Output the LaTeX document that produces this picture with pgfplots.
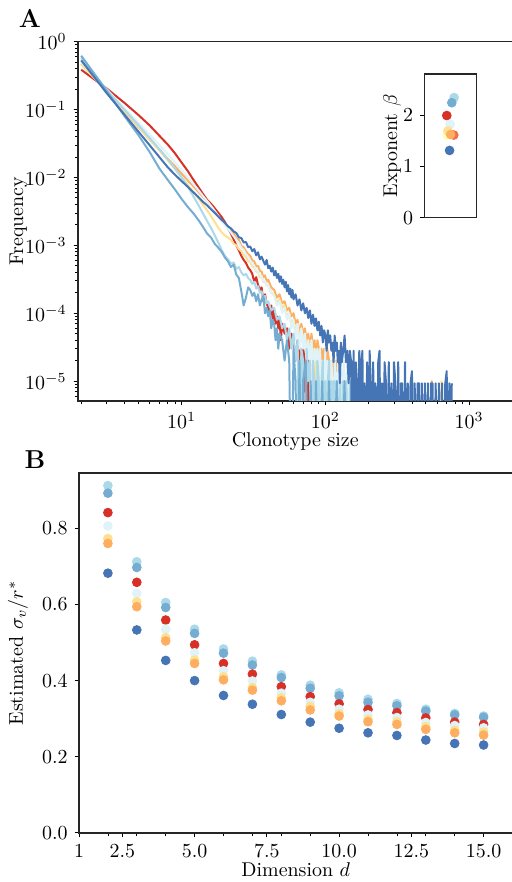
\documentclass[border=0pt]{standalone}
\usepackage{pgfplots}
\usepackage{pgfplotstable}
\pgfplotsset{compat=1.18}
\definecolor{cR}{HTML}{D73027}
\definecolor{cRO}{HTML}{F46D43}
\definecolor{cO}{HTML}{FDAE61}
\definecolor{cY}{HTML}{FEE090}
\definecolor{cPY}{HTML}{FFFFBF}
\definecolor{cVL}{HTML}{E0F3F8}
\definecolor{cLB}{HTML}{ABD9E9}
\definecolor{cMB}{HTML}{74ADD1}
\definecolor{cDB}{HTML}{4575B4}
\pgfplotsset{myax/.style={scale only axis, tick pos=left, tick align=outside,
  major tick length=2.2bp, minor tick length=1.3bp,
  axis line style={line width=0.6bp, black!85},
  major tick style={line width=0.5bp, black}, minor tick style={line width=0.4bp, black},
  tick label style={font=\normalsize}, label style={font=\normalsize}},
  xlab/.style={every axis x label/.style={at={(axis description cs:0.5,0)}, yshift=#1, anchor=base, inner sep=0pt}},
  ylab/.style={every axis y label/.style={at={(axis description cs:0,0.5)}, xshift=#1, rotate=90, anchor=base, inner sep=0pt}},
  ln/.style={line width=1bp, line join=round, no markers},
  pt/.style={only marks, mark=*, mark size=2.2bp, mark options={draw=#1, fill=#1}, color=#1}}
\pgfplotstableread{
d   lb    mb    rd    vl    yl    or    db
2  0.912 0.892 0.841 0.806 0.773 0.760 0.682
3  0.712 0.697 0.658 0.629 0.607 0.594 0.533
4  0.605 0.592 0.559 0.535 0.513 0.504 0.453
5  0.535 0.524 0.494 0.473 0.454 0.445 0.400
6  0.483 0.472 0.445 0.426 0.410 0.402 0.361
7  0.451 0.441 0.417 0.399 0.382 0.375 0.338
8  0.415 0.408 0.384 0.367 0.355 0.347 0.311
9  0.388 0.380 0.358 0.343 0.332 0.323 0.291
10 0.368 0.360 0.339 0.325 0.313 0.307 0.275
11 0.351 0.343 0.324 0.310 0.298 0.292 0.263
12 0.340 0.334 0.316 0.303 0.292 0.285 0.256
13 0.325 0.320 0.302 0.290 0.279 0.272 0.244
14 0.314 0.310 0.291 0.282 0.270 0.263 0.235
15 0.307 0.304 0.285 0.276 0.265 0.257 0.231
}\sigmatab
\begin{document}
\begin{tikzpicture}[x=1bp,y=1bp]
\path[use as bounding box] (0,0) rectangle (255.5,441);
\node[font=\bfseries\fontsize{13}{15}\selectfont] at (15,432) {A};
\node[font=\bfseries\fontsize{13}{15}\selectfont] at (17.5,211) {B};
% ---------------- Panel A ----------------
\begin{axis}[myax, xlab=-23bp, ylab=-27.5bp, at={(39bp,240.5bp)}, anchor=south west,
  width=217.2bp, height=179.7bp, xmode=log, ymode=log,
  xmin=1.9, xmax=2000, ymin=5.1e-6, ymax=1,
  xlabel={Clonotype size}, ylabel={Frequency}]
% red
\addplot[ln, cR] coordinates {(2,0.385)(3,0.205)(4,0.125)(5,0.083)(6,0.058)(7,0.041)(8,0.0305)(9,0.0225)(10,0.0165)(11,0.0125)(12,0.0094)(13,0.0073)(14,0.0058)(15,0.0047)(16,0.0041)(17,0.0035)(18,0.0030)(19,0.0026)(20,0.0022)(21,0.0018)(22,0.0015)(23,0.00122)(24,0.001)(25,0.00084)(26,0.0007)(27,0.00061)(28,0.00055)(29,0.00047)(30,0.00043)(31,0.00038)(32,0.00029)(33,0.00034)(34,0.00026)(35,0.00022)(36,0.00024)(37,0.00015)(38,0.00019)(39,0.00014)(40,0.00012)(41,0.0001)(42,0.00013)(43,0.00008)(44,0.00011)(45,0.00007)(46,0.00009)(47,0.00006)(48,0.00008)(49,0.00004)(50,0.00007)(52,0.00005)(54,0.00006)(56,0.00003)(58,0.00005)(60,0.00004)(62,0.00002)(64,0.00004)(66,0.00003)(68,1e-7)(70,0.00003)(72,0.00002)(74,1e-7)(76,0.00002)(78,0.00001)(80,1e-7)(82,0.00002)(85,1e-7)(87,0.00002)(90,0.00001)(93,1e-7)(96,0.00001)(100,1e-7)(104,0.00001)(108,1e-7)};
% orange
\addplot[ln, cO] coordinates {(2,0.47)(3,0.19)(4,0.093)(5,0.055)(6,0.036)(7,0.0255)(8,0.0188)(9,0.0145)(10,0.0113)(11,0.0091)(12,0.0075)(13,0.0062)(14,0.0052)(15,0.0045)(16,0.0038)(17,0.0032)(18,0.0027)(19,0.0023)(20,0.0021)(21,0.0019)(22,0.00166)(23,0.0015)(24,0.00128)(25,0.0012)(26,0.00098)(27,0.00094)(28,0.00082)(29,0.00074)(30,0.0007)(31,0.0006)(32,0.00058)(33,0.00049)(34,0.0005)(35,0.00042)(36,0.00041)(37,0.00034)(38,0.00036)(39,0.00029)(40,0.00031)(42,0.00024)(44,0.00022)(46,0.00017)(48,0.00019)(50,0.00014)(52,0.00015)(54,0.00011)(56,0.00012)(58,0.00009)(60,0.0001)(62,0.00007)(64,0.00008)(66,0.00005)(68,0.00007)(70,0.00005)(72,0.00006)(74,0.00004)(76,0.00005)(78,0.00003)(80,0.00005)(82,0.00003)(84,0.00004)(86,0.00002)(88,0.00004)(90,0.00003)(92,0.00001)(94,0.00003)(96,0.00002)(98,0.00003)(100,0.00001)(103,0.00003)(106,0.00002)(109,1e-7)(112,0.00002)(115,0.00001)(118,0.00002)(121,1e-7)(124,0.00001)(127,0.00002)(130,1e-7)(133,0.00001)(136,0.00001)(139,1e-7)(142,0.00001)(145,1e-7)(148,0.00001)(151,1e-7)(545,1e-7)(550,0.00001)(555,1e-7)};
% yellow
\addplot[ln, cY] coordinates {(2,0.46)(3,0.19)(4,0.095)(5,0.056)(6,0.036)(7,0.025)(8,0.0178)(9,0.0132)(10,0.0100)(11,0.0078)(12,0.0062)(13,0.0050)(14,0.0040)(15,0.0033)(16,0.0027)(17,0.0022)(18,0.0018)(19,0.00155)(20,0.0014)(21,0.0013)(22,0.0012)(23,0.00105)(24,0.001)(25,0.00088)(26,0.00082)(27,0.00072)(28,0.00068)(29,0.00058)(30,0.00057)(31,0.00049)(32,0.00047)(33,0.00041)(34,0.0004)(35,0.00034)(36,0.00035)(37,0.00029)(38,0.0003)(39,0.00025)(40,0.00026)(42,0.0002)(44,0.00019)(46,0.00014)(48,0.00016)(50,0.00012)(52,0.00013)(54,0.00009)(56,0.0001)(58,0.00007)(60,0.00008)(62,0.00005)(64,0.00007)(66,0.00004)(68,0.00006)(70,0.00004)(72,0.00005)(74,0.00003)(76,0.00004)(78,0.00002)(80,0.00004)(82,0.00002)(84,0.00003)(86,0.00001)(88,0.00003)(90,0.00002)(92,1e-7)(94,0.00002)(96,0.00001)(98,0.00002)(100,1e-7)(103,0.00002)(106,0.00001)(109,0.00002)(112,1e-7)(115,0.00001)(118,0.00001)(121,1e-7)(124,0.00002)(127,1e-7)(130,0.00001)(133,1e-7)(136,0.00001)(140,1e-7)(144,0.00001)(148,1e-7)(635,1e-7)(640,0.00001)(645,1e-7)};
% very light blue
\addplot[ln, cVL] coordinates {(2,0.50)(3,0.20)(4,0.105)(5,0.064)(6,0.043)(7,0.030)(8,0.022)(9,0.0165)(10,0.0128)(11,0.0101)(12,0.0081)(13,0.0066)(14,0.0054)(15,0.0045)(16,0.0038)(17,0.0032)(18,0.0027)(19,0.0023)(20,0.0020)(21,0.00175)(22,0.00155)(23,0.00136)(24,0.0012)(25,0.00108)(26,0.00092)(27,0.00086)(28,0.00074)(29,0.00068)(30,0.0006)(31,0.00054)(32,0.0005)(33,0.00043)(34,0.00042)(35,0.00036)(36,0.00035)(37,0.0003)(38,0.0003)(39,0.00025)(40,0.00026)(42,0.0002)(44,0.00018)(46,0.00013)(48,0.00015)(50,0.0001)(52,0.00012)(54,0.00008)(56,0.0001)(58,0.00006)(60,0.00008)(62,0.00004)(64,0.00007)(66,0.00003)(68,0.00006)(70,0.00003)(72,0.00005)(74,0.00002)(76,0.00004)(78,0.00002)(80,0.00004)(82,0.00001)(84,0.00003)(86,0.00002)(88,0.00003)(90,0.00001)(92,0.00003)(94,1e-7)(96,0.00002)(98,0.00001)(100,0.00003)(102,1e-7)(104,0.00002)(106,0.00001)(108,1e-7)(110,0.00002)(112,0.00001)(114,1e-7)(116,0.00002)(118,0.00001)(120,1e-7)(122,0.00002)(124,0.00001)(126,1e-7)(128,0.00002)(130,0.00001)(132,1e-7)(134,0.00002)(136,0.00001)(138,1e-7)(140,0.00001)(142,0.00002)(144,1e-7)(146,0.00001)(148,1e-7)(151,0.00001)(154,1e-7)};
% light blue
\addplot[ln, cLB] coordinates {(2,0.58)(3,0.195)(4,0.099)(5,0.059)(6,0.038)(7,0.026)(8,0.0185)(9,0.0135)(10,0.0100)(11,0.0074)(12,0.0054)(13,0.0040)(14,0.0030)(15,0.0023)(16,0.0018)(17,0.0014)(18,0.0011)(19,0.00085)(20,0.0007)(21,0.00062)(22,0.00054)(23,0.00056)(24,0.00045)(25,0.00048)(26,0.0004)(27,0.00036)(28,0.00038)(29,0.00033)(30,0.00031)(31,0.00027)(32,0.00029)(33,0.00023)(34,0.00025)(35,0.0002)(36,0.00021)(37,0.00017)(38,0.00018)(39,0.00014)(40,0.00015)(42,0.00011)(44,0.00012)(46,0.00008)(48,0.00009)(50,0.00006)(52,0.00007)(54,0.00004)(56,0.00006)(58,0.00003)(60,0.00005)(62,0.00002)(64,0.00004)(66,1e-7)(68,0.00003)(70,0.00002)(72,1e-7)(74,0.00003)(76,0.00001)(78,0.00002)(80,1e-7)(82,0.00002)(84,0.00001)(86,1e-7)(88,0.00002)(90,0.00001)(92,1e-7)(94,0.00001)(96,0.00002)(98,1e-7)(100,0.00001)(102,1e-7)(104,0.00001)(106,0.00002)(108,1e-7)(110,0.00001)(112,1e-7)(114,0.00001)(116,0.00001)(118,1e-7)(121,0.00001)(124,1e-7)(127,0.00001)(130,1e-7)(133,0.00001)(136,1e-7)(140,0.00001)(144,1e-7)(148,0.00001)(151,1e-7)};
% mid blue
\addplot[ln, cMB] coordinates {(2,0.62)(3,0.19)(4,0.080)(5,0.042)(6,0.0235)(7,0.0135)(8,0.0092)(9,0.0066)(10,0.0048)(11,0.0037)(12,0.0030)(13,0.0024)(14,0.0019)(15,0.0015)(16,0.0013)(17,0.00105)(18,0.00092)(19,0.0008)(20,0.00066)(21,0.00058)(22,0.00048)(23,0.00052)(24,0.00037)(25,0.00033)(26,0.00021)(27,0.00013)(28,0.00017)(29,0.00024)(30,0.00022)(31,0.00018)(32,0.0002)(33,0.00015)(34,0.00019)(35,0.00013)(36,0.00016)(37,0.00018)(38,0.0001)(39,0.00012)(40,0.00009)(41,0.00011)(42,0.00006)(43,0.00008)(44,0.00007)(45,0.00004)(46,0.00006)(47,0.00003)(48,0.00005)(50,0.00004)(52,0.00002)(54,0.00004)(56,0.00002)(58,1e-7)(60,0.00003)(62,0.00001)(64,1e-7)(66,0.00002)(68,1e-7)(70,0.00001)(73,0.00002)(76,1e-7)(79,0.00001)(82,1e-7)(86,0.00001)(90,1e-7)(95,0.00001)(100,1e-7)(106,0.00001)(112,1e-7)(120,0.00001)(128,1e-7)(136,0.00001)(140,1e-7)};
% dark blue
\addplot[ln, cDB] coordinates {(2,0.53)(3,0.1755)(4,0.0838)(5,0.0472)(6,0.0296)(7,0.0199)(8,0.0141)(9,0.0109)(10,0.0088)(11,0.0073)(12,0.0061)(13,0.0052)(14,0.0044)(15,0.0039)(16,0.0034)(17,0.0030)(18,0.00265)(19,0.00237)(20,0.00214)(21,0.0019)(22,0.00178)(23,0.0016)(24,0.00152)(25,0.00131)(26,0.00128)(27,0.0011)(28,0.00112)(29,0.00094)(30,0.00096)(31,0.00082)(32,0.00088)(33,0.00071)(34,0.00079)(35,0.00062)(36,0.00068)(37,0.00059)(38,0.00052)(39,0.00061)(40,0.00046)(41,0.0005)(42,0.00041)(43,0.00047)(44,0.00036)(45,0.00042)(46,0.00033)(47,0.00038)(48,0.00029)(49,0.00035)(50,0.00027)(51,0.00031)(52,0.00024)(53,0.00029)(54,0.00021)(55,0.00026)(56,0.00019)(57,0.00023)(58,0.00017)(59,0.00022)(60,0.00016)(62,0.00019)(64,0.00013)(66,0.00016)(68,0.00011)(70,0.00014)(72,0.0001)(74,0.00012)(76,0.000085)(78,0.00011)(80,0.00007)(82,0.000095)(84,0.000065)(86,0.000084)(88,0.000056)(90,0.000075)(92,0.000047)(94,0.000065)(96,0.000037)(98,0.000056)(100,0.000047)(102,0.000028)(104,0.000056)(106,0.000037)(108,0.000047)(110,0.000028)(112,0.000037)(114,0.000019)(116,0.000047)(118,0.000028)(120,0.000037)(122,0.000019)(124,0.000028)(126,0.0000093)(128,0.000037)(130,0.000019)(133,0.000028)(136,0.000047)(139,0.000019)(142,0.000028)(145,0.0000093)(148,0.000028)(151,0.000019)(154,1e-7)(157,0.000028)(160,1e-7)(163,0.000019)(166,0.0000093)(169,1e-7)(172,0.000028)(175,1e-7)(178,0.000019)(181,0.000028)(184,1e-7)(187,0.0000093)(191,1e-7)(195,0.000019)(199,1e-7)(203,0.000028)(207,0.0000093)(211,1e-7)(215,0.000019)(219,1e-7)(223,0.0000093)(228,1e-7)(233,0.000019)(238,0.000028)(243,1e-7)(248,0.0000093)(253,1e-7)(258,0.000019)(264,0.0000093)(270,1e-7)(276,0.000019)(282,1e-7)(288,0.0000093)(294,1e-7)(300,0.000019)(307,0.0000093)(314,1e-7)(321,0.000019)(328,1e-7)(335,0.0000093)(342,0.0000093)(350,1e-7)(358,0.000019)(366,1e-7)(374,0.0000093)(382,1e-7)(391,0.0000093)(400,0.000014)(409,1e-7)(418,0.0000093)(428,1e-7)(438,0.0000093)(448,0.0000093)(458,1e-7)(469,0.0000093)(480,1e-7)(492,0.0000093)(504,1e-7)(516,0.0000093)(529,1e-7)(542,0.0000093)(556,0.0000093)(570,1e-7)(585,0.0000093)(600,1e-7)(616,0.0000093)(632,1e-7)(648,0.0000093)(665,1e-7)(682,0.0000093)(698,0.000014)(712,1e-7)(728,0.0000093)(744,1e-7)(757,0.0000093)};
\end{axis}
% ---------------- Inset ----------------
\begin{axis}[myax, ylab=-13.7bp, at={(212.2bp,332.15bp)}, anchor=south west,
  width=26.2bp, height=71.85bp, xmin=0, xmax=1, ymin=0, ymax=2.8,
  xtick=\empty, ytick={0,1,2}, ylabel={Exponent $\beta$},
  axis background/.style={fill=white}]
\addplot[pt=cLB] coordinates {(0.567,2.34)};
\addplot[pt=cMB] coordinates {(0.523,2.24)};
\addplot[pt=cR] coordinates {(0.427,1.99)};
\addplot[pt=cVL] coordinates {(0.49,1.82)};
\addplot[pt=cPY] coordinates {(0.43,1.60)};
\addplot[pt=cY] coordinates {(0.45,1.69)};
\addplot[pt=cRO] coordinates {(0.56,1.61)};
\addplot[pt=cO] coordinates {(0.50,1.62)};
\addplot[pt=cDB] coordinates {(0.48,1.31)};
\end{axis}
% ---------------- Panel B ----------------
\begin{axis}[myax, xlab=-22bp, ylab=-28bp, at={(39.5bp,24.5bp)}, anchor=south west,
  width=216.75bp, height=180bp, xmin=1, xmax=16, ymin=0, ymax=0.945,
  xtick={1,2.5,5,7.5,10,12.5,15}, xticklabels={1,2.5,5.0,7.5,10.0,12.5,15.0},
  minor xtick={2,3,4,6,7,8,9,11,12,13,14},
  ytick={0,0.2,0.4,0.6,0.8},
  yticklabel style={/pgf/number format/.cd, fixed, fixed zerofill, precision=1},
  xlabel={Dimension $d$}, ylabel={Estimated $\sigma_v/r^*$}]
\addplot[pt=cLB] table[x=d, y=lb] {\sigmatab};
\addplot[pt=cMB] table[x=d, y=mb] {\sigmatab};
\addplot[pt=cR] table[x=d, y=rd] {\sigmatab};
\addplot[pt=cVL] table[x=d, y=vl] {\sigmatab};
\addplot[pt=cY] table[x=d, y=yl] {\sigmatab};
\addplot[pt=cO] table[x=d, y=or] {\sigmatab};
\addplot[pt=cDB] table[x=d, y=db] {\sigmatab};
\end{axis}
\end{tikzpicture}
\end{document}
